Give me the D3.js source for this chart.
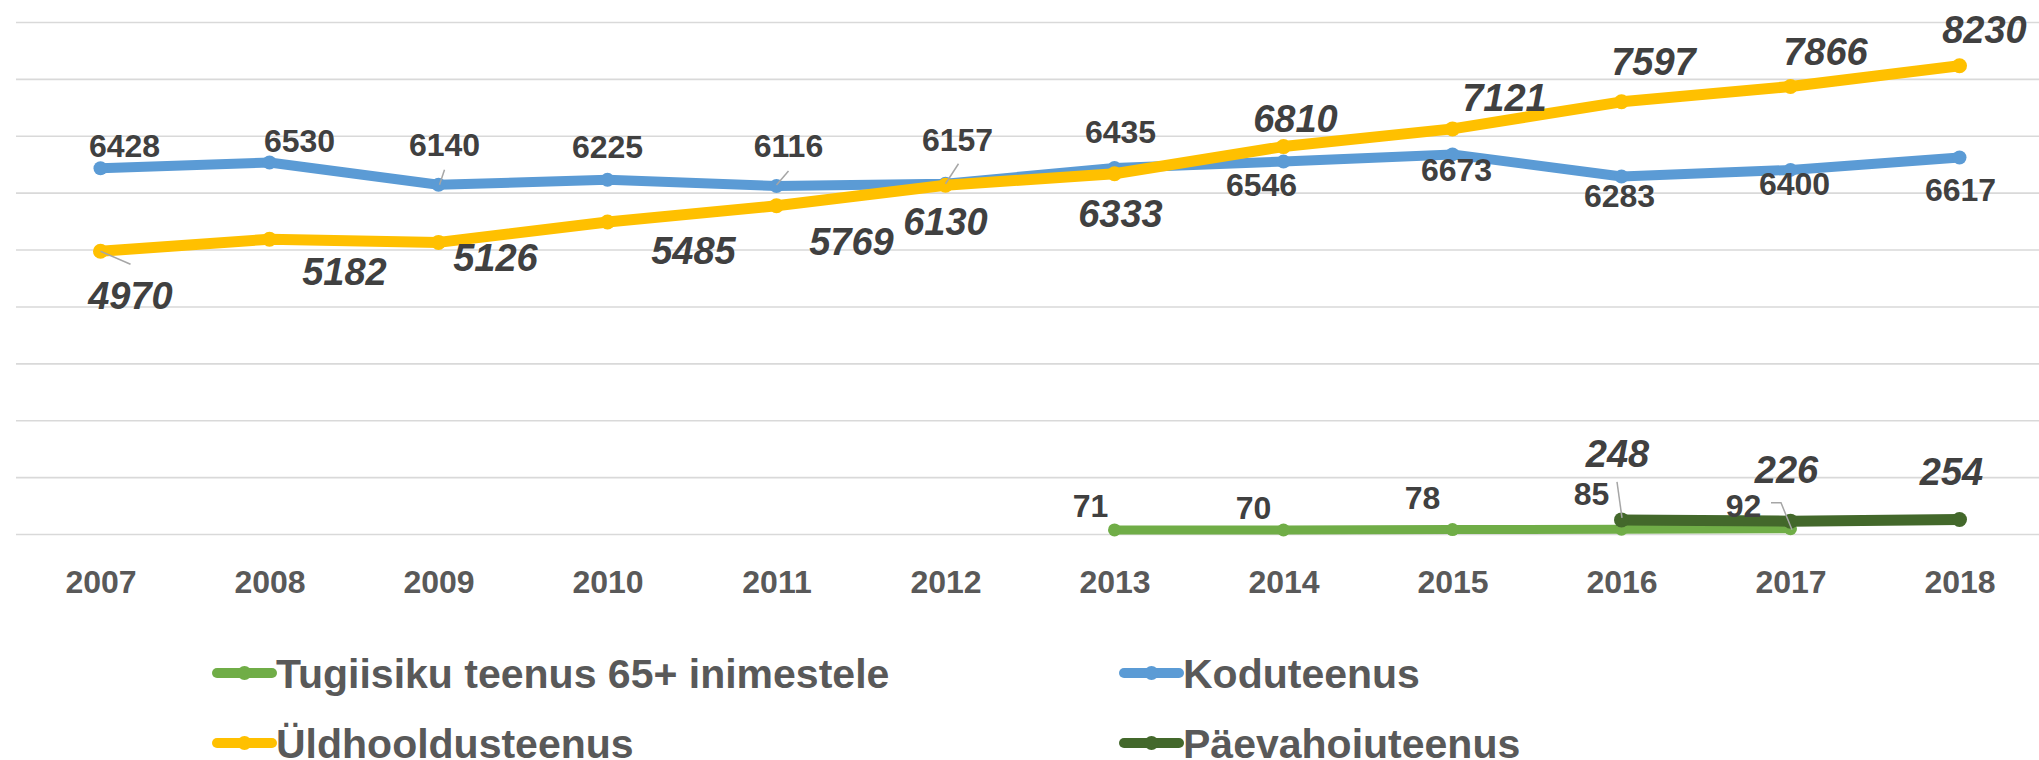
<!DOCTYPE html>
<html><head><meta charset="utf-8">
<script src="https://cdn.jsdelivr.net/npm/d3@7"></script>
<style>body{margin:0;background:#fff;overflow:hidden} svg{display:block}</style>
</head><body>
<svg id="chart" width="2039" height="760"></svg>
<script>
// ---- data ----
const years = [2007,2008,2009,2010,2011,2012,2013,2014,2015,2016,2017,2018];
const koduteenus = [6428,6530,6140,6225,6116,6157,6435,6546,6673,6283,6400,6617];
const yldhooldusteenus = [4970,5182,5126,5485,5769,6130,6333,6810,7121,7597,7866,8230];
const tugiisikuYears = [2013,2014,2015,2016,2017];
const tugiisiku = [71,70,78,85,92];
const paevahoiuYears = [2016,2017,2018];
const paevahoiu = [248,226,254];
const yTicks = [0,1000,2000,3000,4000,5000,6000,7000,8000,9000];
const seriesNames = ["Tugiisiku teenus 65+ inimestele","Koduteenus","Üldhooldusteenus","Päevahoiuteenus"];

// ---- label layout (offsets from the point, px) ----
const kodLabelOff = [[24,-23],[30,-22],[6,-40],[0,-33],[12,-41],[12,-44],[6,-36],[-22,23],[4,15],[-2,19],[4,14],[1,32]];
const yldLabelOff = [[30,44],[75,32],[57,15],[86,28],[75,36],[0,36],[6,40],[12,-28],[52,-32],[32,-40],[35,-35],[25,-36]];
const tugLabelOff = [[-24,-24],[-30,-23],[-30,-32],[-30,-36],[-47,-23]];
const paeLabelOff = [[-4,-67],[-4,-52],[-8,-48]];

const W = 2039, H = 760;
const svg = d3.select("#chart");
const FONT = "'Liberation Sans', Arial, sans-serif";

const x = d3.scalePoint().domain(years).range([16, 2044]).padding(0.5);
const y = d3.scaleLinear().domain([0, 9000]).range([534, 22]);

// gridlines
const gAxisY = svg.append("g").attr("transform", "translate(16,0)")
  .call(d3.axisLeft(y).tickValues(yTicks).tickSize(-(W - 16)).tickFormat(""));
gAxisY.select(".domain").remove();
gAxisY.selectAll(".tick line").attr("stroke", "#d9d9d9").attr("stroke-width", 1.6);

// x axis labels
const gAxisX = svg.append("g").attr("transform", "translate(0,534)")
  .call(d3.axisBottom(x).tickSize(0).tickFormat(d3.format("d")));
gAxisX.select(".domain").remove();
gAxisX.selectAll(".tick text")
  .attr("y", 47).attr("dy", "0.36em")
  .attr("fill", "#595959").attr("font-family", FONT)
  .attr("font-size", 32).attr("font-weight", "bold");

const colors = {tug:"#70ad47", kod:"#5b9bd5", yld:"#ffc000", pae:"#43682b"};

function drawSeries(xs, vals, color, width, r) {
  const pts = xs.map((yr, i) => [x(yr), y(vals[i])]);
  svg.append("path")
    .attr("d", d3.line()(pts))
    .attr("fill", "none").attr("stroke", color)
    .attr("stroke-width", width).attr("stroke-linejoin", "round").attr("stroke-linecap", "round");
  svg.append("g").selectAll("circle").data(pts).join("circle")
    .attr("cx", d => d[0]).attr("cy", d => d[1]).attr("r", r).attr("fill", color);
  return pts;
}

const ptsTug = drawSeries(tugiisikuYears, tugiisiku, colors.tug, 9, 6.5);
const ptsKod = drawSeries(years, koduteenus, colors.kod, 10, 7);
const ptsYld = drawSeries(years, yldhooldusteenus, colors.yld, 11, 7.5);
const ptsPae = drawSeries(paevahoiuYears, paevahoiu, colors.pae, 11, 7.5);

// leader lines
const leaderColor = "#a6a6a6";
function leader(p, segs) {
  svg.append("path")
    .attr("d", d3.line()(segs.map(s => [p[0] + s[0], p[1] + s[1]])))
    .attr("fill", "none").attr("stroke", leaderColor).attr("stroke-width", 1.5);
}
leader(ptsKod[2], [[1,0],[6,-15]]);
leader(ptsKod[4], [[0,-1],[12,-15]]);
leader(ptsKod[5], [[0,0],[13,-20]]);
leader(ptsYld[0], [[0,0],[30,13]]);
leader(ptsPae[0], [[-4.5,-38],[0.5,-2]]);
leader(ptsTug[4], [[-19.5,-26],[-9.5,-26],[1.5,1]]);

function labels(pts, vals, offs, size, italic) {
  svg.append("g").selectAll("text").data(pts).join("text")
    .attr("x", (d, i) => d[0] + offs[i][0])
    .attr("y", (d, i) => d[1] + offs[i][1])
    .attr("dy", "0.36em")
    .attr("text-anchor", "middle")
    .attr("font-family", FONT).attr("font-size", size)
    .attr("font-weight", "bold").attr("font-style", italic ? "italic" : "normal")
    .attr("fill", "#404040")
    .text((d, i) => vals[i]);
}
labels(ptsKod, koduteenus, kodLabelOff, 32, false);
labels(ptsYld, yldhooldusteenus, yldLabelOff, 38, true);
labels(ptsTug, tugiisiku, tugLabelOff, 32, false);
labels(ptsPae, paevahoiu, paeLabelOff, 38, true);

// legend
const legendColors = [colors.tug, colors.kod, colors.yld, colors.pae];
const legendPos = [[214,673],[1121,673],[214,743],[1121,743]];
const lg = svg.append("g").selectAll("g").data(seriesNames).join("g")
  .attr("transform", (d, i) => `translate(${legendPos[i][0]},${legendPos[i][1]})`);
lg.append("line").attr("x1", 3).attr("x2", 58).attr("y1", 0).attr("y2", 0)
  .attr("stroke", (d, i) => legendColors[i]).attr("stroke-width", 10).attr("stroke-linecap", "round");
lg.append("circle").attr("cx", 30.5).attr("cy", 0).attr("r", 7).attr("fill", (d, i) => legendColors[i]);
lg.append("text").attr("x", 62).attr("dy", "0.36em")
  .attr("font-family", FONT).attr("font-size", 41).attr("font-weight", "bold")
  .attr("fill", "#595959").text(d => d);
</script>
</body></html>
